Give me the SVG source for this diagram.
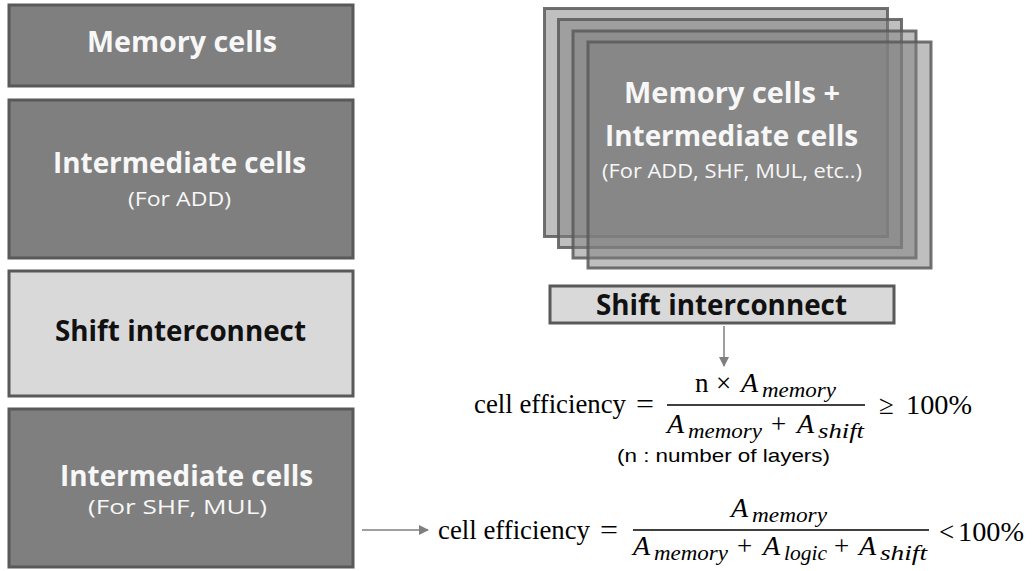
<svg xmlns="http://www.w3.org/2000/svg" width="1034" height="571" viewBox="0 0 1034 571">
  <style>
    .dark { fill: #7f7f7f; stroke: #595959; stroke-width: 3; }
    .light { fill: #d9d9d9; stroke: #595959; stroke-width: 3; }
    .layer { fill: #7f7f7f; fill-opacity: 0.5; stroke: #595959; stroke-width: 3; stroke-opacity: 0.85; }
    .title { font-family: "Open Sans", "Liberation Sans", sans-serif; font-weight: bold; font-size: 28px; }
    .sub { font-family: "Open Sans", "Liberation Sans", sans-serif; font-size: 20px; }
    .white { fill: #f7f7f7; }
    .black { fill: #111111; }
    .m { font-family: "Liberation Serif", "DejaVu Serif", serif; font-size: 27px; fill: #000000; }
    .mi { font-family: "Liberation Serif", "DejaVu Serif", serif; font-style: italic; font-size: 28px; fill: #000000; }
    .ms { font-family: "Liberation Serif", "DejaVu Serif", serif; font-style: italic; font-size: 20px; fill: #000000; }
    .note { font-family: "Liberation Sans", Arial, sans-serif; font-size: 19px; fill: #000000; }
    .bar { stroke: #000000; stroke-width: 1.3; }
    .conn { stroke: #7f7f7f; stroke-width: 1.5; fill: none; }
  </style>
  <defs>
    <marker id="arrow" viewBox="0 0 10 10" refX="9" refY="5" markerWidth="10" markerHeight="10" markerUnits="userSpaceOnUse" orient="auto">
      <path d="M0,0 L10,5 L0,10 z" fill="#7f7f7f"/>
    </marker>
  </defs>

  <rect width="1034" height="571" fill="#ffffff"/>

  <!-- left column: planar layout -->
  <g id="memory-cells">
    <rect class="dark" x="9" y="5" width="344" height="81"/>
    <text class="title white" x="87" y="52" textLength="190" lengthAdjust="spacingAndGlyphs">Memory cells</text>
  </g>
  <g id="intermediate-add">
    <rect class="dark" x="9" y="100" width="344" height="158"/>
    <text class="title white" x="53" y="173" textLength="253" lengthAdjust="spacingAndGlyphs">Intermediate cells</text>
    <text class="sub white" x="128" y="206" textLength="103" lengthAdjust="spacingAndGlyphs">(For ADD)</text>
  </g>
  <g id="shift-left">
    <rect class="light" x="9" y="271" width="344" height="125"/>
    <text class="title black" x="55" y="341" textLength="251" lengthAdjust="spacingAndGlyphs">Shift interconnect</text>
  </g>
  <g id="intermediate-shf-mul">
    <rect class="dark" x="9" y="409" width="344" height="158"/>
    <text class="title white" x="60" y="486" textLength="253" lengthAdjust="spacingAndGlyphs">Intermediate cells</text>
    <text class="sub white" x="88" y="514" textLength="179" lengthAdjust="spacingAndGlyphs">(For SHF, MUL)</text>
  </g>

  <!-- right column: stacked layers -->
  <g id="layer-stack">
    <rect class="layer" x="544.5" y="8.5" width="343" height="228"/>
    <rect class="layer" x="558.5" y="19.5" width="343" height="228"/>
    <rect class="layer" x="573" y="31" width="343" height="227"/>
    <rect class="layer" x="588" y="42" width="343" height="226"/>
    <text class="title white" x="624" y="103" textLength="216" lengthAdjust="spacingAndGlyphs">Memory cells +</text>
    <text class="title white" x="605" y="146" textLength="253" lengthAdjust="spacingAndGlyphs">Intermediate cells</text>
    <text class="sub white" x="602" y="178" textLength="260" lengthAdjust="spacingAndGlyphs">(For ADD, SHF, MUL, etc..)</text>
  </g>
  <g id="shift-right">
    <rect class="light" x="550" y="286" width="344" height="37"/>
    <text class="title black" x="596" y="315" textLength="251" lengthAdjust="spacingAndGlyphs">Shift interconnect</text>
  </g>

  <!-- connectors -->
  <g id="connectors">
    <line class="conn" x1="724" y1="326" x2="724" y2="366" marker-end="url(#arrow)"/>
    <line class="conn" x1="362" y1="530" x2="428" y2="530" marker-end="url(#arrow)"/>
  </g>

  <!-- stacked cell efficiency -->
  <g id="formula-stacked">
    <text class="m" x="474" y="413" textLength="152" lengthAdjust="spacingAndGlyphs">cell efficiency</text>
    <text class="m" x="636" y="413" textLength="18" lengthAdjust="spacingAndGlyphs">=</text>
    <text class="m" x="695" y="392">n</text>
    <text class="m" x="716" y="392">×</text>
    <text class="mi" x="741" y="392">A</text>
    <text class="ms" x="762" y="397" textLength="74" lengthAdjust="spacingAndGlyphs">memory</text>
    <line class="bar" x1="667" y1="405" x2="865" y2="405"/>
    <text class="mi" x="667" y="433">A</text>
    <text class="ms" x="688" y="438" textLength="74" lengthAdjust="spacingAndGlyphs">memory</text>
    <text class="m" x="771" y="433">+</text>
    <text class="mi" x="797" y="433">A</text>
    <text class="ms" x="818" y="438" textLength="46" lengthAdjust="spacingAndGlyphs">shift</text>
    <text class="m" x="879" y="414">≥</text>
    <text class="m" x="906" y="414" textLength="66" lengthAdjust="spacingAndGlyphs">100%</text>
    <text class="note" x="617" y="462" textLength="213" lengthAdjust="spacingAndGlyphs">(n : number of layers)</text>
  </g>

  <!-- planar cell efficiency -->
  <g id="formula-planar">
    <text class="m" x="438" y="539" textLength="152" lengthAdjust="spacingAndGlyphs">cell efficiency</text>
    <text class="m" x="600" y="539" textLength="18" lengthAdjust="spacingAndGlyphs">=</text>
    <text class="mi" x="731" y="517">A</text>
    <text class="ms" x="752" y="522" textLength="75" lengthAdjust="spacingAndGlyphs">memory</text>
    <line class="bar" x1="633" y1="530" x2="929" y2="530"/>
    <text class="mi" x="633" y="555">A</text>
    <text class="ms" x="654" y="560" textLength="74" lengthAdjust="spacingAndGlyphs">memory</text>
    <text class="m" x="737" y="555">+</text>
    <text class="mi" x="763" y="555">A</text>
    <text class="ms" x="784" y="560" textLength="43" lengthAdjust="spacingAndGlyphs">logic</text>
    <text class="m" x="834" y="555">+</text>
    <text class="mi" x="859" y="555">A</text>
    <text class="ms" x="880" y="560" textLength="47" lengthAdjust="spacingAndGlyphs">shift</text>
    <text class="m" x="939" y="541">&lt;</text>
    <text class="m" x="958" y="541" textLength="66" lengthAdjust="spacingAndGlyphs">100%</text>
  </g>
</svg>
